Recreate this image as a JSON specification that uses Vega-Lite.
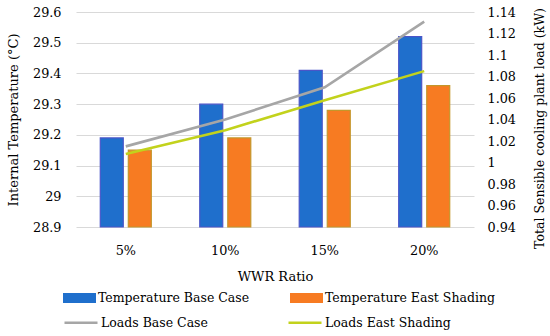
{
  "$schema": "https://vega.github.io/schema/vega-lite/v6.json",
  "width": 398,
  "height": 215,
  "autosize": "none",
  "padding": {"left": 76, "top": 12, "right": 76, "bottom": 109},
  "background": "white",
  "config": {
    "view": {"stroke": null},
    "font": "DejaVu Serif",
    "axis": {"labelFont": "DejaVu Serif", "titleFont": "DejaVu Serif", "labelColor": "#000", "titleColor": "#000", "titleFontWeight": "normal", "labelFontSize": 12.8, "titleFontSize": 13, "ticks": false, "domain": false},
    "legend": {"labelFont": "DejaVu Serif", "labelFontSize": 12.5, "labelColor": "#000", "padding": 0, "labelLimit": 400}
  },
  "datasets": {
    "temps": [
      {"wwr": "5%", "series": "Temperature Base Case", "temp": 29.19},
      {"wwr": "5%", "series": "Temperature East Shading", "temp": 29.15},
      {"wwr": "10%", "series": "Temperature Base Case", "temp": 29.30},
      {"wwr": "10%", "series": "Temperature East Shading", "temp": 29.19},
      {"wwr": "15%", "series": "Temperature Base Case", "temp": 29.41},
      {"wwr": "15%", "series": "Temperature East Shading", "temp": 29.28},
      {"wwr": "20%", "series": "Temperature Base Case", "temp": 29.52},
      {"wwr": "20%", "series": "Temperature East Shading", "temp": 29.36}
    ],
    "loads": [
      {"wwr": "5%", "series": "Loads Base Case", "load": 1.015},
      {"wwr": "10%", "series": "Loads Base Case", "load": 1.040},
      {"wwr": "15%", "series": "Loads Base Case", "load": 1.070},
      {"wwr": "20%", "series": "Loads Base Case", "load": 1.131},
      {"wwr": "5%", "series": "Loads East Shading", "load": 1.008},
      {"wwr": "10%", "series": "Loads East Shading", "load": 1.030},
      {"wwr": "15%", "series": "Loads East Shading", "load": 1.058},
      {"wwr": "20%", "series": "Loads East Shading", "load": 1.085}
    ]
  },
  "encoding": {
    "x": {
      "field": "wwr", "type": "nominal", "sort": ["5%", "10%", "15%", "20%"],
      "scale": {"paddingInner": 0.487, "paddingOuter": 0.244},
      "axis": {"title": "WWR Ratio", "labelAngle": 0, "labelPadding": 17, "titleY": 43, "titleBaseline": "top", "grid": false}
    }
  },
  "layer": [
    {
      "data": {"name": "temps"},
      "mark": {"type": "bar", "strokeWidth": 1.2},
      "encoding": {
        "xOffset": {"field": "series", "type": "nominal", "scale": {"paddingInner": 0.18, "paddingOuter": 0}},
        "y": {
          "field": "temp", "type": "quantitative",
          "scale": {"domain": [28.9, 29.6], "zero": false, "nice": false},
          "axis": {"title": "Internal Temperature (°C)", "values": [28.9, 29.0, 29.1, 29.2, 29.3, 29.4, 29.5, 29.6], "format": "~g", "labelPadding": 15, "grid": true, "gridColor": "#d9d9d9", "gridWidth": 1.2, "titleX": -63, "titleY": 107.5, "titleBaseline": "middle"}
        },
        "y2": {"datum": 28.9},
        "color": {
          "field": "series", "type": "nominal",
          "scale": {"domain": ["Temperature Base Case", "Temperature East Shading"], "range": ["#1f6fcc", "#f77b22"]},
          "legend": {"title": null, "orient": "none", "legendX": -13, "legendY": 269.5, "direction": "horizontal", "columns": 2, "columnPadding": 40, "symbolType": "M-1,-0.3H1V0.3H-1Z", "symbolSize": 1089, "symbolStrokeWidth": 0, "symbolOpacity": 1, "labelOffset": 2}
        },
        "stroke": {
          "field": "series", "type": "nominal",
          "scale": {"domain": ["Temperature Base Case", "Temperature East Shading"], "range": ["#4a55c8", "#c4962a"]},
          "legend": null
        }
      }
    },
    {
      "data": {"name": "loads"},
      "mark": {"type": "line", "strokeWidth": 2.6},
      "encoding": {
        "y": {
          "field": "load", "type": "quantitative",
          "scale": {"domain": [0.94, 1.14], "zero": false, "nice": false},
          "axis": {"orient": "right", "title": "Total Sensible cooling plant load (kW)", "titleFontSize": 12.5, "values": [0.94, 0.96, 0.98, 1, 1.02, 1.04, 1.06, 1.08, 1.1, 1.12, 1.14], "format": "~g", "labelPadding": 13, "grid": false, "titleAngle": -90, "titleX": 65, "titleY": 116, "titleBaseline": "middle"}
        },
        "stroke": {
          "field": "series", "type": "nominal",
          "scale": {"domain": ["Loads Base Case", "Loads East Shading"], "range": ["#a6a6a6", "#c2d21c"]},
          "legend": {"title": null, "orient": "none", "legendX": -13, "legendY": 292.5, "direction": "horizontal", "columns": 2, "columnPadding": 75, "symbolType": "stroke", "symbolSize": 1089, "symbolStrokeWidth": 2.6, "labelOffset": 2}
        }
      }
    }
  ],
  "resolve": {"scale": {"y": "independent", "stroke": "independent"}}
}
